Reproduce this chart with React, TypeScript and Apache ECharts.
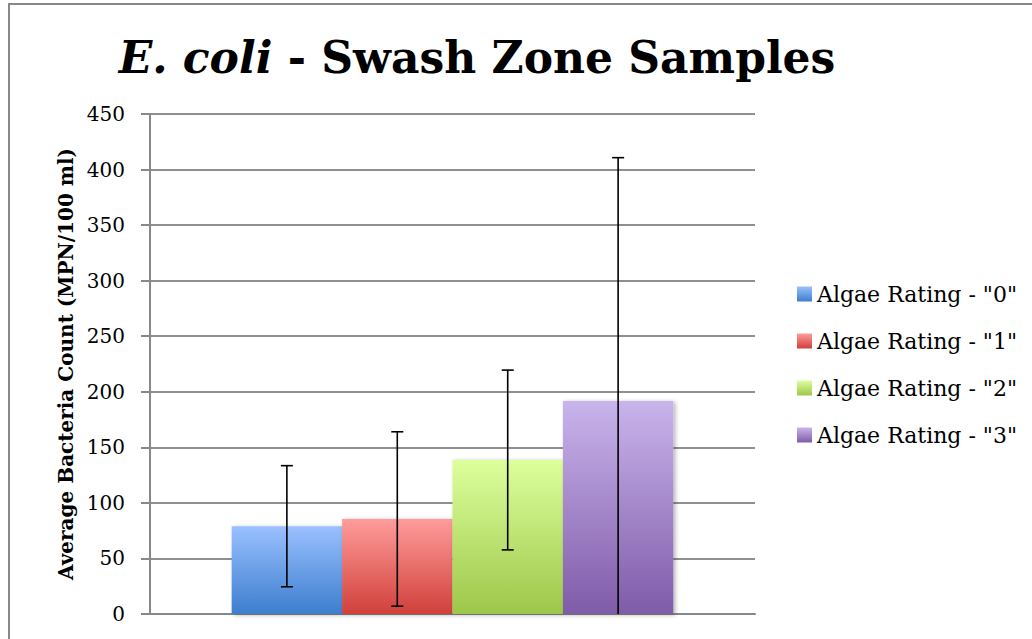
import React, { useEffect, useRef } from "react";
import * as echarts from "echarts";

const seriesNames = ['Algae Rating - "0"', 'Algae Rating - "1"', 'Algae Rating - "2"', 'Algae Rating - "3"'];
const means = [79, 85.5, 138.6, 191.7];
const errors = [54.5, 78.5, 80.9, 219];
const yTicks = [0, 50, 100, 150, 200, 250, 300, 350, 400, 450];
const topColors = ["#9AC0FF", "#FF9C9B", "#DDFF9C", "#C9B4EC"];
const bottomColors = ["#3D7ECE", "#D0403A", "#9DC74A", "#7F5BA8"];

const FONT = "DejaVu Serif";
const BAR_GAP_RATIO = 0.27;

export default function App() {
  const ref = useRef<HTMLDivElement>(null);
  useEffect(() => {
    if (!ref.current) return;
    const chart = echarts.init(ref.current, null, { renderer: "svg" });
    const barSeries = seriesNames.map((name, i) => ({
      name,
      type: "bar",
      data: [means[i]],
      barGap: "0%",
      barCategoryGap: BAR_GAP_RATIO * 100 + "%",
      itemStyle: {
        color: new echarts.graphic.LinearGradient(0, 0, 0, 1, [
          { offset: 0, color: topColors[i] },
          { offset: 1, color: bottomColors[i] },
        ]),
        shadowBlur: 4,
        shadowColor: "rgba(0,0,0,0.3)",
        shadowOffsetX: 2,
        shadowOffsetY: 1,
      },
      z: 2,
    }));
    const errData = means.map((m, i) => [0, m - errors[i], m + errors[i], i]);
    const errorSeries = {
      type: "custom",
      name: "err",
      data: errData,
      clip: true,
      z: 5,
      renderItem: (params: any, api: any) => {
        const idx = api.value(3);
        const lowP = api.coord([api.value(0), api.value(1)]);
        const highP = api.coord([api.value(0), api.value(2)]);
        const catW = api.size([1, 0])[0];
        const barW = (catW * (1 - BAR_GAP_RATIO)) / 4;
        const x = lowP[0] + (idx - 1.5) * barW;
        const cap = 6;
        const style = { stroke: "#000", lineWidth: 1.6 };
        return {
          type: "group",
          children: [
            { type: "line", shape: { x1: x, y1: highP[1], x2: x, y2: lowP[1] }, style },
            { type: "line", shape: { x1: x - cap, y1: highP[1], x2: x + cap, y2: highP[1] }, style },
            { type: "line", shape: { x1: x - cap, y1: lowP[1], x2: x + cap, y2: lowP[1] }, style },
          ],
        };
      },
    };
    chart.setOption({
      animation: false,
      backgroundColor: "#fff",
      title: {
        text: "{i|E. coli}{b| - Swash Zone Samples}",
        left: 472,
        textAlign: "center",
        top: 30,
        textStyle: {
          rich: {
            i: { fontFamily: FONT, fontSize: 44, fontWeight: "bold", fontStyle: "italic", color: "#000" },
            b: { fontFamily: FONT, fontSize: 44, fontWeight: "bold", color: "#000" },
          },
        },
      },
      legend: {
        data: seriesNames,
        orient: "vertical",
        left: 797,
        top: 283,
        padding: 0,
        itemWidth: 15,
        itemHeight: 15,
        itemGap: 25,
        icon: "rect",
        textStyle: { fontFamily: FONT, fontSize: 22, color: "#000", padding: [0, 0, 0, 0] },
      },
      grid: { left: 150, top: 114, right: 277, bottom: 25, containLabel: false },
      xAxis: {
        type: "category",
        data: [""],
        axisLine: { lineStyle: { color: "#888", width: 2 } },
        axisTick: { show: false },
        axisLabel: { show: false },
      },
      yAxis: {
        type: "value",
        min: 0,
        max: 450,
        interval: 50,
        name: "Average Bacteria Count (MPN/100 ml)",
        nameLocation: "middle",
        nameGap: 74,
        nameTextStyle: { fontFamily: FONT, fontSize: 20, fontWeight: "bold", color: "#000" },
        axisLine: { show: true, lineStyle: { color: "#888", width: 2 } },
        axisTick: { show: true, length: 9, lineStyle: { color: "#888", width: 2 } },
        axisLabel: {
          fontFamily: FONT,
          fontSize: 20,
          color: "#000",
          margin: 25,
          formatter: (v: number) => (yTicks.includes(v) ? String(v) : ""),
        },
        splitLine: { lineStyle: { color: "#8f8f8f", width: 2 } },
      },
      graphic: [
        {
          type: "rect",
          shape: { x: 9, y: 4, width: 1100, height: 700 },
          style: { fill: "none", stroke: "#888", lineWidth: 2 },
          silent: true,
        },
      ],
      series: [...barSeries, errorSeries],
    });
    return () => chart.dispose();
  }, []);
  return <div ref={ref} style={{ position: "fixed", left: 0, top: 0, width: 1032, height: 639 }} />;
}
